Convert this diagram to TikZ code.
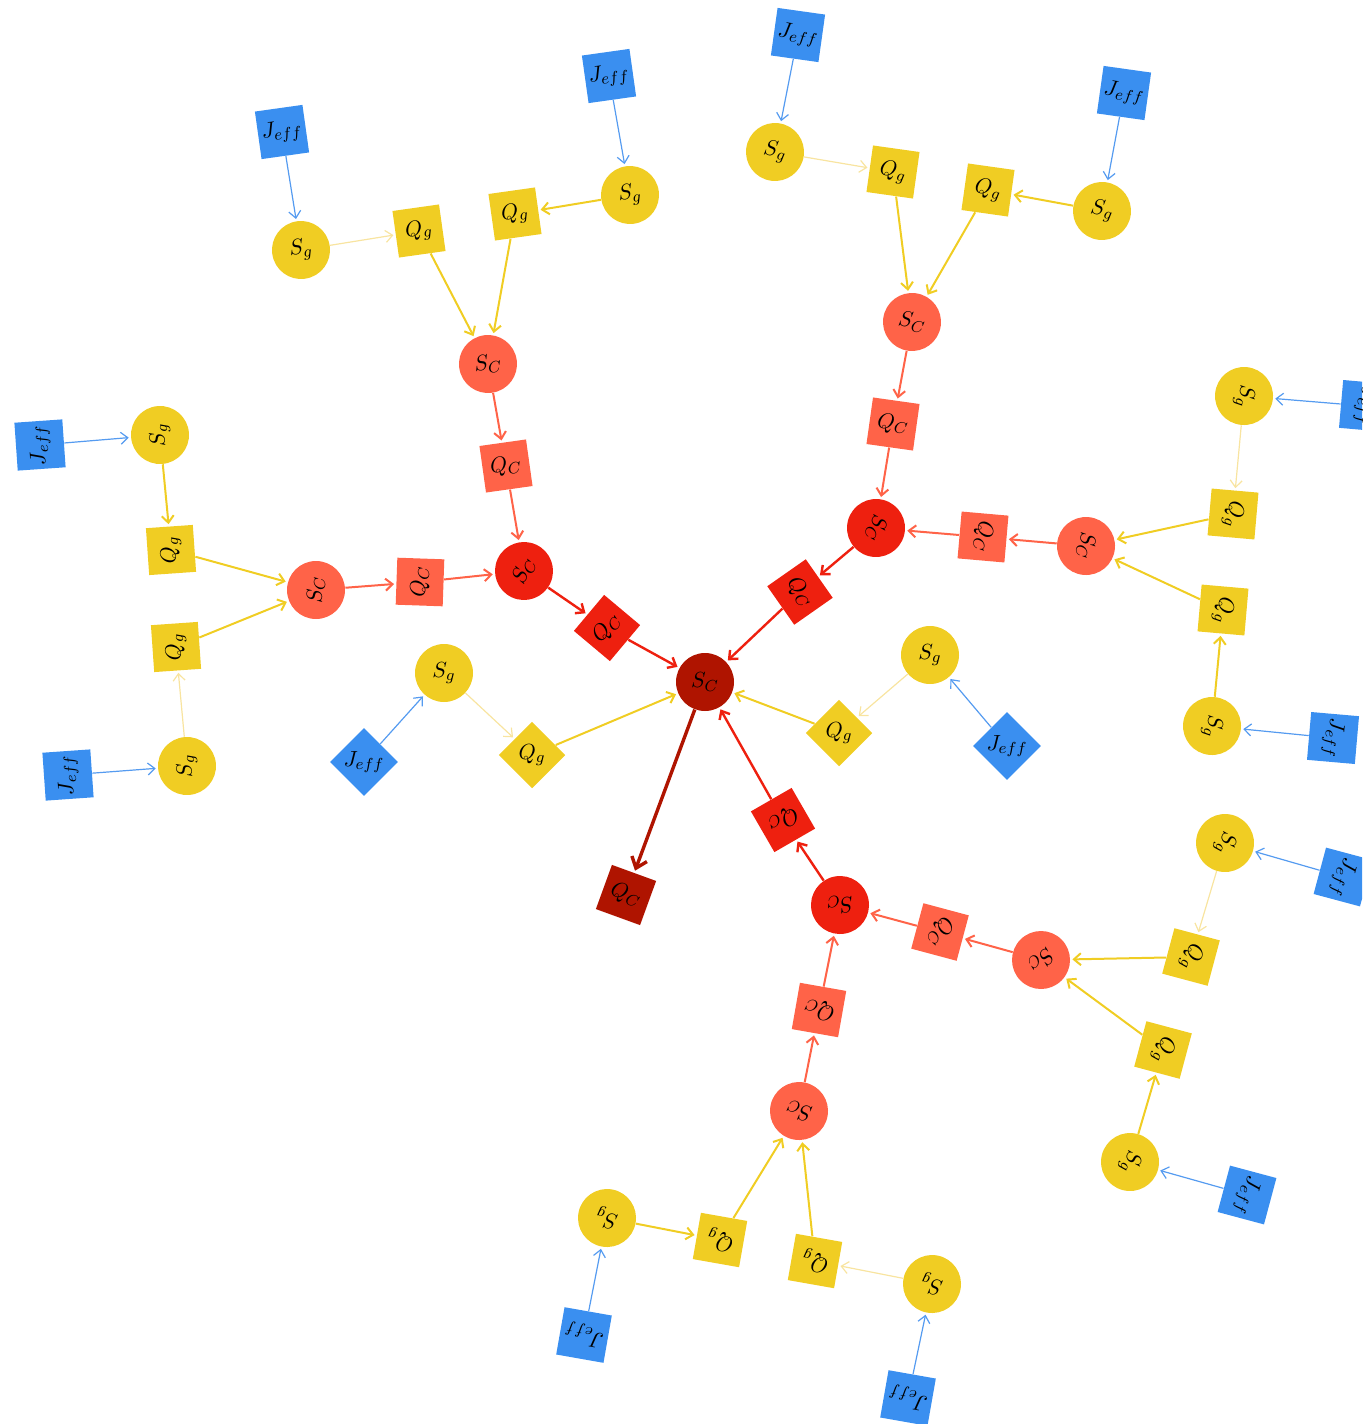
\documentclass[tikz,border=0pt]{standalone}
\usepackage{graphicx}
\usetikzlibrary{arrows.meta}
\definecolor{cy}{RGB}{240,205,35}
\definecolor{cb}{RGB}{58,143,240}
\definecolor{cbl}{RGB}{85,155,240}
\definecolor{cco}{RGB}{255,99,72}
\definecolor{cr}{RGB}{238,32,15}
\definecolor{cdr}{RGB}{175,20,0}
\definecolor{cpale}{RGB}{248,228,160}
\tikzset{
  nd/.style={inner sep=0pt, font=\fontsize{11}{13}\selectfont},
  circ/.style={nd, circle, minimum size=29pt},
  sqr/.style={nd, rectangle, minimum size=23.5pt},
  jeff/.style={sqr, fill=cb, minimum size=24pt},
  qg/.style={sqr, fill=cy},
  sg/.style={circ, fill=cy},
  scl/.style={circ, fill=cco},
  qcl/.style={sqr, fill=cco},
  scr/.style={circ, fill=cr},
  qcr/.style={sqr, fill=cr},
  scd/.style={circ, fill=cdr},
  qcd/.style={sqr, fill=cdr},
  tip/.style={-{Straight Barb[length=3.5pt,width=6pt]}, shorten >=1pt},
  eb/.style={tip, draw=cbl, line width=0.6pt},
  ey/.style={tip, draw=cy, line width=1pt},
  ep/.style={tip, draw=cpale, line width=0.6pt},
  ecl/.style={tip, draw=cco, line width=1pt},
  ecr/.style={tip, draw=cr, line width=1.2pt},
  ecd/.style={-{Straight Barb[length=5pt,width=8pt]}, shorten >=1pt, draw=cdr, line width=1.7pt},
}
\begin{document}
\begin{tikzpicture}[x=0.5pt, y=-0.5pt]
\useasboundingbox (0,0) rectangle (1362,1424);
\clip (0,0) rectangle (1362,1424);
% center
\node[scd] (c0) at (705,682) {$S_C$};
\node[qcd, rotate=-20] (q0) at (626,895) {$Q_C$};
% branch A (upper left)
\node[qcr, rotate=50] (qA) at (607,628) {$Q_C$};
\node[scr, rotate=65] (sA) at (524,571) {$S_C$};
\node[qcl, rotate=88] (qA1) at (420,582) {$Q_C$};
\node[scl, rotate=90] (sA1) at (316,590) {$S_C$};
\node[qg, rotate=94] (gA1a) at (171,550) {$Q_g$};
\node[sg, rotate=94] (sgA1a) at (160,435) {$S_g$};
\node[jeff, rotate=94] (jA1a) at (40,445) {$J_{eff}$};
\node[qg, rotate=94] (gA1b) at (176,647) {$Q_g$};
\node[sg, rotate=94] (sgA1b) at (187,766) {$S_g$};
\node[jeff, rotate=94] (jA1b) at (68,775) {$J_{eff}$};
\node[qcl, rotate=8] (qA2) at (506,466) {$Q_C$};
\node[scl, rotate=8] (sA2) at (488,364) {$S_C$};
\node[qg, rotate=8] (gA2a) at (419,231) {$Q_g$};
\node[sg, rotate=8] (sgA2a) at (301,250) {$S_g$};
\node[jeff, rotate=8] (jA2a) at (282,132) {$J_{eff}$};
\node[qg, rotate=8] (gA2b) at (515,214) {$Q_g$};
\node[sg, rotate=8] (sgA2b) at (630,195) {$S_g$};
\node[jeff, rotate=8] (jA2b) at (609,76) {$J_{eff}$};
% branch B (upper right)
\node[qcr, rotate=-55] (qB) at (800,592) {$Q_C$};
\node[scr, rotate=-105] (sB) at (876,528) {$S_C$};
\node[qcl, rotate=-95] (qB1) at (983,537) {$Q_C$};
\node[scl, rotate=-95] (sB1) at (1086,546) {$S_C$};
\node[qg, rotate=-95] (gB1a) at (1233,514) {$Q_g$};
\node[sg, rotate=-95] (sgB1a) at (1244,396) {$S_g$};
\node[jeff, rotate=-95] (jB1a) at (1365,406) {$J_{eff}$};
\node[qg, rotate=-95] (gB1b) at (1223,610) {$Q_g$};
\node[sg, rotate=-95] (sgB1b) at (1212,726) {$S_g$};
\node[jeff, rotate=-95] (jB1b) at (1333,738) {$J_{eff}$};
\node[qcl, rotate=-8] (qB2) at (893,424) {$Q_C$};
\node[scl, rotate=-8] (sB2) at (912,322) {$S_C$};
\node[qg, rotate=-8] (gB2a) at (893,172) {$Q_g$};
\node[sg, rotate=-8] (sgB2a) at (775,152) {$S_g$};
\node[jeff, rotate=-8] (jB2a) at (798,35) {$J_{eff}$};
\node[qg, rotate=-8] (gB2b) at (988,190) {$Q_g$};
\node[sg, rotate=-8] (sgB2b) at (1102,211) {$S_g$};
\node[jeff, rotate=-8] (jB2b) at (1124,93) {$J_{eff}$};
% direct leaves of center
\node[qg, rotate=45] (gC) at (532,755) {\rotatebox{-45}{$Q_g$}};
\node[sg] (sgC) at (444,673) {$S_g$};
\node[jeff, rotate=45] (jC) at (364,762) {\rotatebox{-45}{$J_{eff}$}};
\node[qg, rotate=45] (gD) at (839,733) {\rotatebox{-45}{$Q_g$}};
\node[sg] (sgD) at (930,655) {$S_g$};
\node[jeff, rotate=45] (jD) at (1007,746) {\rotatebox{-45}{$J_{eff}$}};
% branch E (bottom)
\node[qcr, rotate=-150] (qE) at (783,820) {$Q_C$};
\node[scr, rotate=-170] (sE) at (840,905) {$S_C$};
\node[qcl, rotate=-105] (qE1) at (940,932) {\rotatebox{-12}{$Q_C$}};
\node[scl, rotate=-135] (sE1) at (1041,960) {$S_C$};
\node[qg, rotate=-105] (gE1a) at (1191,957) {$Q_g$};
\node[sg, rotate=-105] (sgE1a) at (1225,843) {$S_g$};
\node[jeff, rotate=-105] (jE1a) at (1343,877) {$J_{eff}$};
\node[qg, rotate=-105] (gE1b) at (1163,1050) {$Q_g$};
\node[sg, rotate=-105] (sgE1b) at (1130,1162) {$S_g$};
\node[jeff, rotate=-105] (jE1b) at (1247,1195) {$J_{eff}$};
\node[qcl, rotate=170] (qE2) at (819,1010) {$Q_C$};
\node[scl, rotate=170] (sE2) at (799,1111) {$S_C$};
\node[qg, rotate=170] (gE2a) at (720,1240) {$Q_g$};
\node[sg, rotate=170] (sgE2a) at (607,1218) {$S_g$};
\node[jeff, rotate=170] (jE2a) at (584,1335) {$J_{eff}$};
\node[qg, rotate=170] (gE2b) at (815,1261) {$Q_g$};
\node[sg, rotate=170] (sgE2b) at (932,1284) {$S_g$};
\node[jeff, rotate=170] (jE2b) at (908,1398) {$J_{eff}$};
% edges: Jeff -> Sg
\foreach \j/\s in {jA1a/sgA1a, jA1b/sgA1b, jA2a/sgA2a, jA2b/sgA2b,
  jB1a/sgB1a, jB1b/sgB1b, jB2a/sgB2a, jB2b/sgB2b, jC/sgC, jD/sgD,
  jE1a/sgE1a, jE1b/sgE1b, jE2a/sgE2a, jE2b/sgE2b}
  \draw[eb] (\j) -- (\s);
% Sg -> Qg (normal)
\foreach \s/\g in {sgA1a/gA1a, sgA2b/gA2b, sgB1b/gB1b, sgB2b/gB2b, sgE1b/gE1b, sgE2a/gE2a}
  \draw[ey] (\s) -- (\g);
% Sg -> Qg (pale)
\foreach \s/\g in {sgA1b/gA1b, sgA2a/gA2a, sgB1a/gB1a, sgB2a/gB2a, sgC/gC, sgD/gD, sgE1a/gE1a, sgE2b/gE2b}
  \draw[ep] (\s) -- (\g);
% Qg -> Sc
\foreach \g/\s in {gA1a/sA1, gA1b/sA1, gA2a/sA2, gA2b/sA2, gB1a/sB1, gB1b/sB1,
  gB2a/sB2, gB2b/sB2, gC/c0, gD/c0, gE1a/sE1, gE1b/sE1, gE2a/sE2, gE2b/sE2}
  \draw[ey] (\g) -- (\s);
% coral chain
\foreach \a/\b in {sA1/qA1, qA1/sA, sA2/qA2, qA2/sA, sB1/qB1, qB1/sB, sB2/qB2, qB2/sB,
  sE1/qE1, qE1/sE, sE2/qE2, qE2/sE}
  \draw[ecl] (\a) -- (\b);
% red chain
\foreach \a/\b in {sA/qA, qA/c0, sB/qB, qB/c0, sE/qE, qE/c0}
  \draw[ecr] (\a) -- (\b);
\draw[ecd] (c0) -- (q0);
\end{tikzpicture}
\end{document}
